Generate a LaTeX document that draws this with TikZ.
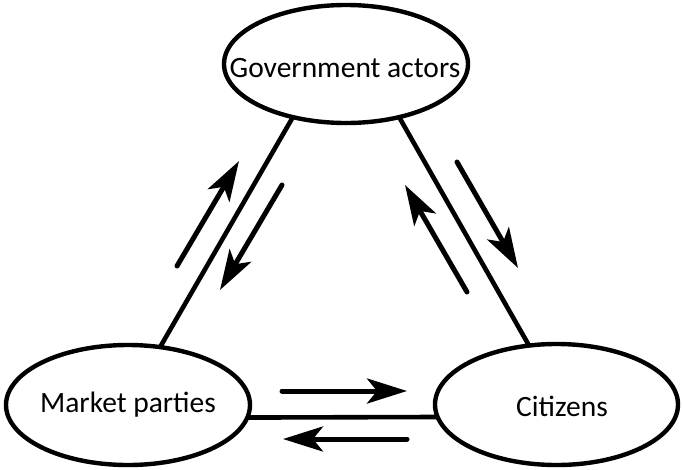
\documentclass[tikz,border=0pt]{standalone}
\usepackage{fontspec}
\setmainfont{Carlito}
\usetikzlibrary{shapes.geometric,arrows.meta}

\begin{document}
\begin{tikzpicture}[x=1pt,y=-1pt,
  actor/.style={ellipse, draw, line width=4.4pt, outer sep=0pt, inner sep=0pt,
                fill=white},
  label/.style={font=\fontsize{29.5}{34}\selectfont},
  link/.style={line width=4.6pt},
  flow/.style={line width=5pt, line cap=round,
               -{Stealth[length=40pt, width=25pt, inset=10pt]}}
]
  % canvas
  \fill[white] (0,0) rectangle (682,469);
  \useasboundingbox (0,0) rectangle (682,469);

  % the three actors
  \node[actor, minimum width=244pt, minimum height=118pt] (gov) at (346,64) {};
  \node[actor, minimum width=244pt, minimum height=120pt] (mkt) at (128,405) {};
  \node[actor, minimum width=243pt, minimum height=121pt] (cit) at (556.5,404.5) {};
  \node[label] (govtxt) at (345,68) {Government actors};
  \node[label] (mkttxt) at (128,405) {Market parties};
  \node[label] (cittxt) at (562,406) {Citizens};

  % relations between the actors
  \draw[link] (gov.225) -- (mkt.61.3);
  \draw[link] (gov.315.3) -- (cit.115);
  \draw[link] (mkt.354.3) -- (cit.186);

  % end points of the exchange arrows
  \coordinate (gm1) at (177,266);  \coordinate (gm2) at (239,161);
  \coordinate (mg1) at (282,185);  \coordinate (mg2) at (220,290);
  \coordinate (gc1) at (457,162);  \coordinate (gc2) at (518,268);
  \coordinate (cg1) at (467,292);  \coordinate (cg2) at (405,185);
  \coordinate (mc1) at (282,391);  \coordinate (mc2) at (407,391);
  \coordinate (cm1) at (407,439);  \coordinate (cm2) at (283,439);

  % exchange arrows
  \draw[flow] (gm1) -- (gm2);
  \draw[flow] (mg1) -- (mg2);
  \draw[flow] (gc1) -- (gc2);
  \draw[flow] (cg1) -- (cg2);
  \draw[flow] (mc1) -- (mc2);
  \draw[flow] (cm1) -- (cm2);
\end{tikzpicture}
\end{document}
